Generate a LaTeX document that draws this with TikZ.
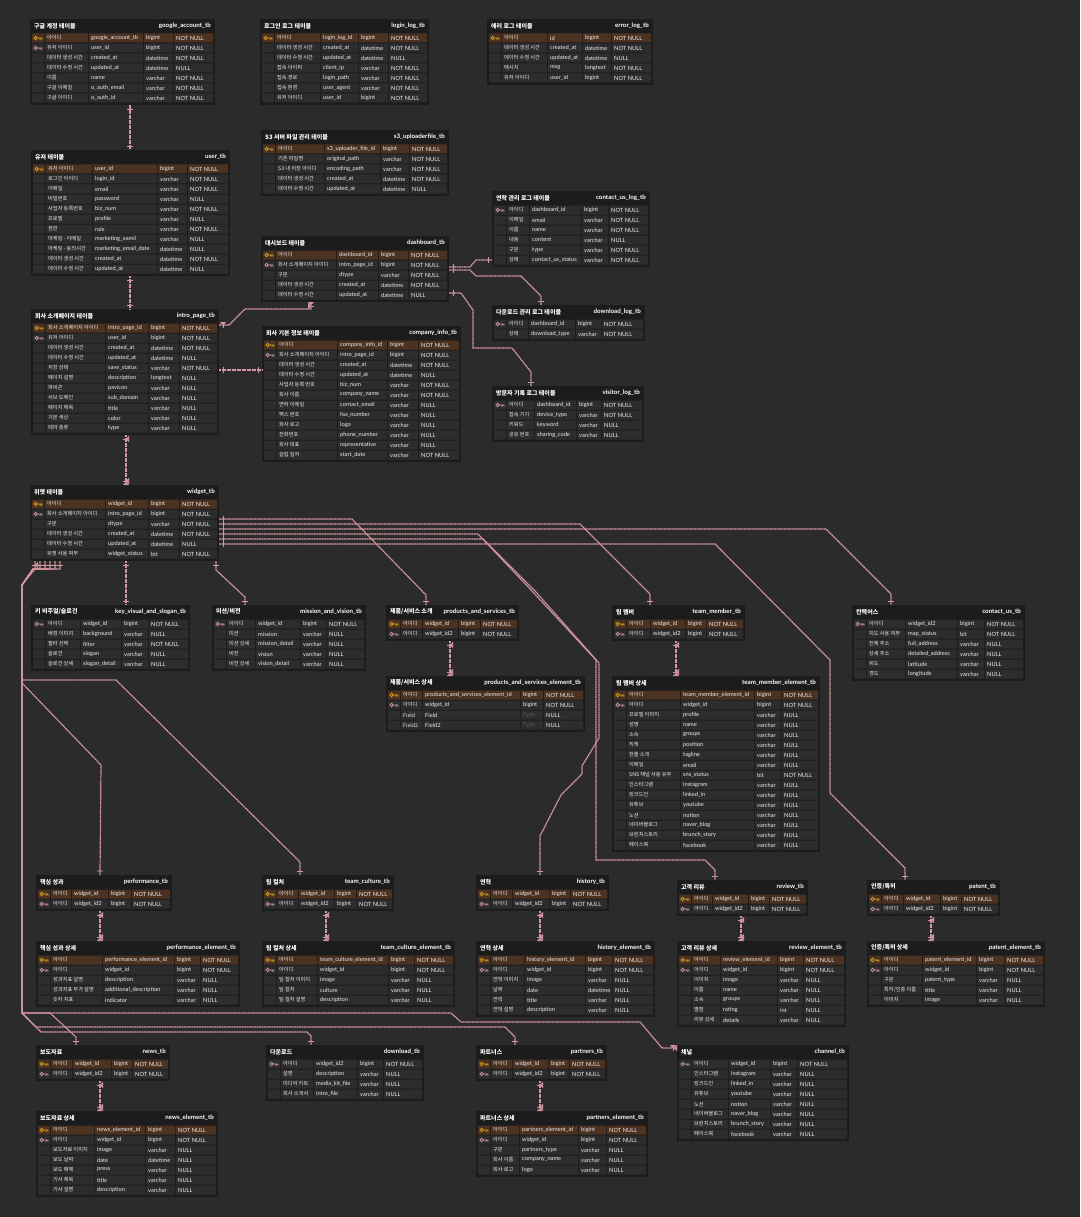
\documentclass[tikz,border=0pt]{standalone}
\usepackage{fontspec}
\setmainfont{Lato}
\newfontfamily\kr{Noto Sans CJK KR}
\usetikzlibrary{arrows.meta,decorations.markings}

\definecolor{canvas}{HTML}{2B2B2B}
\definecolor{tbback}{HTML}{1C1C1C}
\definecolor{cellgray}{HTML}{2D2D2D}
\definecolor{pkbrown}{HTML}{4B3221}
\definecolor{keygold}{HTML}{D9A520}
\definecolor{keypink}{HTML}{CF9AA5}
\definecolor{relpink}{HTML}{D696A2}
\definecolor{celltext}{HTML}{EDEDED}
\definecolor{typegray}{HTML}{5A5A5A}

% one ERD table: name, top-left, label/column/type/null widths, title, tb name, rows
\newcommand{\dbtable}[9]{%
  \pgfmathsetmacro\xc{16+#3}%
  \pgfmathsetmacro\xt{17+#3+#4}%
  \pgfmathsetmacro\xn{18+#3+#4+#5}%
  \pgfmathsetmacro\xe{18+#3+#4+#5+#6}%
  \pgfmathsetmacro\tw{20+#3+#4+#5+#6}%
  \foreach \rr [count=\nn] in {#9} {\xdef\nrows{\nn}}%
  \pgfmathsetmacro\th{16+10*\nrows}%
  \begin{scope}[shift={(#2)}]
    \node[tbbox, minimum width=\tw pt, minimum height=\th pt] (#1) at (0,0) {};
    \node[tbtitle] at (4,7) {#7};
    \node[tbname] at (\tw-4,7) {#8};
    \foreach \ky/\lb/\cn/\tp/\nl [count=\ri] in {#9} {
      \pgfmathsetmacro\yc{9+10*\ri}
      \fill[row\ky] (2,\yc-4.5) rectangle (14,\yc+4.5)
        (15,\yc-4.5) rectangle (\xc-1,\yc+4.5)
        (\xc,\yc-4.5) rectangle (\xt-1,\yc+4.5)
        (\xt,\yc-4.5) rectangle (\xn-1,\yc+4.5)
        (\xn,\yc-4.5) rectangle (\xe,\yc+4.5);
      \draw[key\ky] (5.6,\yc) circle[radius=1.7pt] (7.3,\yc) -- (12,\yc)
        (10.1,\yc) -- (10.1,\yc+1.7) (12,\yc) -- (12,\yc+1.7);
      \node[labeltxt] at (17,\yc) {\lb};
      \node[celltxt] at (\xc+2,\yc) {\cn};
      \node[celltxt] at (\xt+2,\yc) {\tp};
      \node[celltxt] at (\xn+2,\yc) {\nl};
    }
  \end{scope}}

\begin{document}
\catcode`\_=12
\begin{tikzpicture}[
    x=1pt, y=-1pt,
    tbbox/.style={rectangle, fill=tbback, inner sep=0pt, outer sep=0pt, anchor=north west},
    tbtitle/.style={anchor=west, inner sep=0pt, text=white, font=\kr\bfseries\fontsize{6}{7}\selectfont},
    tbname/.style={anchor=east, inner sep=0pt, text=white, font=\bfseries\fontsize{6.2}{7}\selectfont},
    labeltxt/.style={anchor=west, inner sep=0pt, text=celltext, font=\kr\fontsize{5.2}{6}\selectfont},
    celltxt/.style={anchor=west, inner sep=0pt, text=celltext, font=\fontsize{5.7}{6}\selectfont},
    rowpk/.style={fill=pkbrown},
    rowfk/.style={fill=cellgray},
    rowno/.style={fill=cellgray},
    keypk/.style={draw=keygold, line width=0.8pt},
    keyfk/.style={draw=keypink, line width=0.8pt},
    keyno/.style={draw=none},
    rel/.style={draw=relpink, line width=1.2pt, dash pattern=on 2pt off 0.5pt},
    bars/.style={postaction={decorate, decoration={markings,
      mark=at position 4pt with {\draw[relpink, solid, line width=0.9pt] (0,-3pt) -- (0,3pt);},
      mark=at position -4pt with {\draw[relpink, solid, line width=0.9pt] (0,-3pt) -- (0,3pt);}}}},
    crow/.style={-{Triangle[reversed, width=6pt, length=3pt]}}
  ]
  \fill[canvas] (0,0) rectangle (1080,1217);
  \useasboundingbox (0,0) rectangle (1080,1217);

  % log and account tables
  \dbtable{google}{30,19}{43}{54}{29}{39}{구글 계정 테이블}{google_account_tb}{
    pk/아이디/google_account_tb/bigint/NOT NULL,
    fk/유저 아이디/user_id/bigint/NOT NULL,
    no/데이터 생성 시간/created_at/datetime/NOT NULL,
    no/데이터 수정 시간/updated_at/datetime/NULL,
    no/이름/name/varchar/NOT NULL,
    no/구글 이메일/o_auth_email/varchar/NOT NULL,
    no/구글 아이디/o_auth_id/varchar/NOT NULL}
  \dbtable{login}{260,19}{45}{37}{29}{38}{로그인 로그 테이블}{login_log_tb}{
    pk/아이디/login_log_id/bigint/NOT NULL,
    no/데이터 생성 시간/created_at/datetime/NOT NULL,
    no/데이터 수정 시간/updated_at/datetime/NULL,
    no/접속 아이피/client_ip/varchar/NOT NULL,
    no/접속 경로/login_path/varchar/NOT NULL,
    no/접속 환경/user_agent/varchar/NOT NULL,
    no/유저 아이디/user_id/bigint/NOT NULL}
  \dbtable{errorlog}{487,19}{45}{34}{28}{39}{에러 로그 테이블}{error_log_tb}{
    pk/아이디/id/bigint/NOT NULL,
    no/데이터 생성 시간/created_at/datetime/NOT NULL,
    no/데이터 수정 시간/updated_at/datetime/NULL,
    no/메시지/msg/longtext/NOT NULL,
    no/유저 아이디/user_id/bigint/NOT NULL}
  \dbtable{sthree}{261,130}{48}{55}{28}{37}{S3 서버 파일 관리 테이블}{s3_uploaderfile_tb}{
    pk/아이디/s3_uploader_file_id/bigint/NOT NULL,
    no/기존 파일명/original_path/varchar/NOT NULL,
    no/S3 내 저장 아이디/encoding_path/varchar/NOT NULL,
    no/데이터 생성 시간/created_at/datetime/NOT NULL,
    no/데이터 수정 시간/updated_at/datetime/NULL}
  \dbtable{user}{31,150}{46}{64}{29}{40}{유저 테이블}{user_tb}{
    pk/유저 아이디/user_id/bigint/NOT NULL,
    no/로그인 아이디/login_id/varchar/NOT NULL,
    no/이메일/email/varchar/NOT NULL,
    no/비밀번호/password/varchar/NULL,
    no/사업자 등록번호/biz_num/varchar/NOT NULL,
    no/프로필/profile/varchar/NULL,
    no/권한/role/varchar/NOT NULL,
    no/마케팅 - 이메일/marketing_eamil/varchar/NULL,
    no/마케팅 - 동의시간/marketing_email_date/datetime/NULL,
    no/데이터 생성 시간/created_at/datetime/NOT NULL,
    no/데이터 수정 시간/updated_at/datetime/NULL}
  \dbtable{contactlog}{492,191}{22}{51}{26}{39}{연락 관리 로그 테이블}{contact_us_log_tb}{
    fk/아이디/dashboard_id/bigint/NOT NULL,
    no/이메일/email/varchar/NOT NULL,
    no/이름/name/varchar/NOT NULL,
    no/내용/content/varchar/NULL,
    no/구분/type/varchar/NOT NULL,
    no/상태/contact_us_status/varchar/NOT NULL}
  \dbtable{dashboard}{261,236}{60}{41}{29}{38}{대시보드 테이블}{dashboard_tb}{
    pk/아이디/dashboard_id/bigint/NOT NULL,
    fk/회사 소개페이지 아이디/intro_page_id/bigint/NOT NULL,
    no/구분/dtype/varchar/NOT NULL,
    no/데이터 생성 시간/created_at/datetime/NOT NULL,
    no/데이터 수정 시간/updated_at/datetime/NULL}
  \dbtable{downloadlog}{492,305}{21}{46}{25}{41}{다운로드 관리 로그 테이블}{download_log_tb}{
    fk/아이디/dashboard_id/bigint/NOT NULL,
    no/상태/download_type/varchar/NOT NULL}
  \dbtable{intro}{31,309}{59}{42}{30}{37}{회사 소개페이지 테이블}{intro_page_tb}{
    pk/회사 소개페이지 아이디/intro_page_id/bigint/NOT NULL,
    fk/유저 아이디/user_id/bigint/NOT NULL,
    no/데이터 생성 시간/created_at/datetime/NOT NULL,
    no/데이터 수정 시간/updated_at/datetime/NULL,
    no/저장 상태/save_status/varchar/NOT NULL,
    no/페이지 설명/description/longtext/NULL,
    no/파비콘/pavicon/varchar/NULL,
    no/서브 도메인/sub_domain/varchar/NULL,
    no/페이지 제목/title/varchar/NULL,
    no/기본 색상/color/varchar/NULL,
    no/테마 종류/type/varchar/NULL}
  \dbtable{company}{262,326}{60}{49}{30}{40}{회사 기본 정보 테이블}{company_info_tb}{
    pk/아이디/company_info_id/bigint/NOT NULL,
    fk/회사 소개페이지 아이디/intro_page_id/bigint/NOT NULL,
    no/데이터 생성 시간/created_at/datetime/NOT NULL,
    no/데이터 수정 시간/updated_at/datetime/NULL,
    no/사업자 등록 번호/biz_num/varchar/NOT NULL,
    no/회사 이름/company_name/varchar/NOT NULL,
    no/연락 이메일/contact_email/varchar/NULL,
    no/팩스 번호/fax_number/varchar/NULL,
    no/회사 로고/logo/varchar/NULL,
    no/전화번호/phone_number/varchar/NULL,
    no/회사 대표/representative/varchar/NULL,
    no/설립 일자/start_date/varchar/NOT NULL}
  \dbtable{visitor}{492,386}{27}{41}{24}{40}{방문자 기록 로그 테이블}{visitor_log_tb}{
    fk/아이디/dashboard_id/bigint/NOT NULL,
    no/접속 기기/device_type/varchar/NOT NULL,
    no/키워드/keyword/varchar/NULL,
    no/공유 번호/sharing_code/varchar/NULL}

  % widget and its children
  \dbtable{widget}{30,485}{60}{42}{30}{37}{위젯 테이블}{widget_tb}{
    pk/아이디/widget_id/bigint/NOT NULL,
    fk/회사 소개페이지 아이디/intro_page_id/bigint/NOT NULL,
    no/구분/dtype/varchar/NOT NULL,
    no/데이터 생성 시간/created_at/datetime/NOT NULL,
    no/데이터 수정 시간/updated_at/datetime/NULL,
    no/위젯 사용 여부/widget_status/bit/NOT NULL}
  \dbtable{keyvisual}{31,605}{34}{40}{26}{39}{키 비주얼/슬로건}{key_visual_and_slogan_tb}{
    fk/아이디/widget_id/bigint/NOT NULL,
    no/배경 이미지/background/varchar/NULL,
    no/필터 선택/filter/varchar/NOT NULL,
    no/슬로건/slogan/varchar/NULL,
    no/슬로건 상세/slogan_detail/varchar/NULL}
  \dbtable{mission}{212,605}{28}{44}{25}{37}{미션/비전}{mission_and_vision_tb}{
    fk/아이디/widget_id/bigint/NOT NULL,
    no/미션/mission/varchar/NULL,
    no/미션 상세/mission_detail/varchar/NULL,
    no/비전/vision/varchar/NULL,
    no/비전 상세/vision_detail/varchar/NULL}
  \dbtable{products}{386,605}{21}{35}{21}{36}{제품/서비스 소개}{products_and_services_tb}{
    pk/아이디/widget_id/bigint/NOT NULL,
    fk/아이디/widget_id2/bigint/NOT NULL}
  \dbtable{productsel}{386,676}{21}{97}{22}{39}{제품/서비스 상세}{products_and_services_element_tb}{
    pk/아이디/products_and_services_element_id/bigint/NOT NULL,
    fk/아이디/widget_id/bigint/NOT NULL,
    no/Field/Field/{\color{typegray}Type}/NULL,
    no/Field2/Field2/{\color{typegray}Type}/NULL}
  \dbtable{teammember}{612,605}{23}{34}{20}{36}{팀 멤버}{team_member_tb}{
    pk/아이디/widget_id/bigint/NOT NULL,
    fk/아이디/widget_id2/bigint/NOT NULL}
  \dbtable{teammemberel}{612,676}{53}{73}{26}{36}{팀 멤버 상세}{team_member_element_tb}{
    pk/아이디/team_member_element_id/bigint/NOT NULL,
    fk/아이디/widget_id/bigint/NOT NULL,
    no/프로필 이미지/profile/varchar/NULL,
    no/성명/name/varchar/NULL,
    no/소속/groups/varchar/NULL,
    no/직책/position/varchar/NULL,
    no/한줄 소개/tagline/varchar/NULL,
    no/이메일/email/varchar/NULL,
    no/SNS 채널 사용 유무/sns_status/bit/NOT NULL,
    no/인스타그램/instagram/varchar/NULL,
    no/링크드인/linked_in/varchar/NULL,
    no/유튜브/youtube/varchar/NULL,
    no/노션/notion/varchar/NULL,
    no/네이버블로그/naver_blog/varchar/NULL,
    no/브런치스토리/brunch_story/varchar/NULL,
    no/페이스북/facebook/varchar/NULL}
  \dbtable{contactus}{852,605}{38}{51}{26}{38}{컨택어스}{contact_us_tb}{
    fk/아이디/widget_id2/bigint/NOT NULL,
    no/지도 사용 여부/map_status/bit/NOT NULL,
    no/전체 주소/full_address/varchar/NULL,
    no/상세 주소/detailed_address/varchar/NULL,
    no/위도/latitude/varchar/NULL,
    no/경도/longitude/varchar/NULL}

  \dbtable{performance}{36,875}{20}{36}{22}{38}{핵심 성과}{performance_tb}{
    pk/아이디/widget_id/bigint/NOT NULL,
    fk/아이디/widget_id2/bigint/NOT NULL}
  \dbtable{performanceel}{36,941}{51}{71}{25}{37}{핵심 성과 상세}{performance_element_tb}{
    pk/아이디/performance_element_id/bigint/NOT NULL,
    fk/아이디/widget_id/bigint/NOT NULL,
    no/성과지표 설명/description/varchar/NULL,
    no/성과지표 부가 설명/additional_description/varchar/NULL,
    no/숫자 지표/indicator/varchar/NULL}
  \dbtable{teamculture}{262,875}{21}{35}{21}{35}{팀 컬처}{team_culture_tb}{
    pk/아이디/widget_id/bigint/NOT NULL,
    fk/아이디/widget_id2/bigint/NOT NULL}
  \dbtable{teamcultureel}{262,941}{40}{70}{25}{38}{팀 컬처 상세}{team_culture_element_tb}{
    pk/아이디/team_culture_element_id/bigint/NOT NULL,
    fk/아이디/widget_id/bigint/NOT NULL,
    no/팀 컬처 이미지/image/varchar/NULL,
    no/팀 컬처/culture/varchar/NULL,
    no/팀 컬처 설명/description/varchar/NULL}
  \dbtable{history}{476,875}{21}{36}{20}{36}{연혁}{history_tb}{
    pk/아이디/widget_id/bigint/NOT NULL,
    fk/아이디/widget_id2/bigint/NOT NULL}
  \dbtable{historyel}{476,941}{33}{60}{26}{40}{연혁 상세}{history_element_tb}{
    pk/아이디/history_element_id/bigint/NOT NULL,
    fk/아이디/widget_id/bigint/NOT NULL,
    no/연혁 이미지/image/varchar/NULL,
    no/날짜/date/datetime/NULL,
    no/연혁/title/varchar/NULL,
    no/연혁 설명/description/varchar/NULL}
  \dbtable{review}{677,880}{20}{35}{20}{36}{고객 리뷰}{review_tb}{
    pk/아이디/widget_id/bigint/NOT NULL,
    fk/아이디/widget_id2/bigint/NOT NULL}
  \dbtable{reviewel}{677,941}{28}{56}{25}{40}{고객 리뷰 상세}{review_element_tb}{
    pk/아이디/review_element_id/bigint/NOT NULL,
    fk/아이디/widget_id/bigint/NOT NULL,
    no/이미지/image/varchar/NULL,
    no/이름/name/varchar/NULL,
    no/소속/groups/varchar/NULL,
    no/별점/rating/int/NULL,
    no/리뷰 상세/details/varchar/NULL}
  \dbtable{patent}{867,880}{21}{36}{20}{36}{인증/특허}{patent_tb}{
    pk/아이디/widget_id/bigint/NOT NULL,
    fk/아이디/widget_id2/bigint/NOT NULL}
  \dbtable{patentel}{867,941}{40}{53}{27}{38}{인증/특허 상세}{patent_element_tb}{
    pk/아이디/patent_element_id/bigint/NOT NULL,
    fk/아이디/widget_id/bigint/NOT NULL,
    no/구분/patent_type/varchar/NULL,
    no/{특허/인증 이름}/title/varchar/NULL,
    no/이미지/image/varchar/NULL}

  \dbtable{news}{36,1045}{21}{38}{20}{35}{보도자료}{news_tb}{
    pk/아이디/widget_id/bigint/NOT NULL,
    fk/아이디/widget_id2/bigint/NOT NULL}
  \dbtable{newsel}{36,1111}{43}{50}{29}{40}{보도자료 상세}{news_element_tb}{
    pk/아이디/news_element_id/bigint/NOT NULL,
    fk/아이디/widget_id/bigint/NOT NULL,
    no/보도자료 이미지/image/varchar/NULL,
    no/보도 날짜/date/datetime/NULL,
    no/보도 매체/press/varchar/NULL,
    no/기사 제목/title/varchar/NULL,
    no/기사 설명/description/varchar/NULL}
  \dbtable{download}{266,1045}{32}{43}{25}{38}{다운로드}{download_tb}{
    fk/아이디/widget_id2/bigint/NOT NULL,
    no/설명/description/varchar/NULL,
    no/미디어 키트/media_kit_file/varchar/NULL,
    no/회사 소개서/intro_file/varchar/NULL}
  \dbtable{partners}{476,1045}{21}{35}{20}{35}{파트너스}{partners_tb}{
    pk/아이디/widget_id/bigint/NOT NULL,
    fk/아이디/widget_id2/bigint/NOT NULL}
  \dbtable{partnersel}{476,1111}{28}{58}{27}{39}{파트너스 상세}{partners_element_tb}{
    pk/아이디/partners_element_id/bigint/NOT NULL,
    fk/아이디/widget_id/bigint/NOT NULL,
    no/구분/partners_type/varchar/NULL,
    no/회사 이름/company_name/varchar/NULL,
    no/회사 로고/logo/varchar/NULL}
  \dbtable{channel}{677,1045}{36}{41}{26}{49}{채널}{channel_tb}{
    fk/아이디/widget_id/bigint/NOT NULL,
    no/인스타그램/instagram/varchar/NULL,
    no/링크드인/linked_in/varchar/NULL,
    no/유튜브/youtube/varchar/NULL,
    no/노션/notion/varchar/NULL,
    no/네이버블로그/naver_blog/varchar/NULL,
    no/브런치스토리/brunch_story/varchar/NULL,
    no/페이스북/facebook/varchar/NULL}

  % relations, upper part
  \draw[rel, bars] ([xshift=100pt]google.south west) -- ([xshift=99pt]user.north west);
  \draw[rel, bars] ([xshift=99pt]user.south west) -- ([xshift=99pt]intro.north west);
  \draw[rel, bars, crow] ([yshift=-16pt]intro.north east) -- (229,325) -- (245,309) -- (311,309) -- ([xshift=50pt]dashboard.south west);
  \draw[rel, bars] ([yshift=-61pt]intro.north east) -- ([yshift=-44pt]company.north west);
  \draw[rel, bars] ([yshift=-31pt]dashboard.north east) -- (470,267) -- (476,260) -- ([yshift=-69pt]contactlog.north west);
  \draw[rel, bars] ([yshift=-34pt]dashboard.north east) -- (470,270) -- (476,276) -- (521,276) -- (541,296) -- ([xshift=49pt]downloadlog.north west);
  \draw[rel, bars] ([yshift=-57pt]dashboard.north east) -- (461,293) -- (473,310) -- (473,348) -- (512,348) -- (531,372) -- ([xshift=39pt]visitor.north west);
  \draw[rel, bars, crow] ([xshift=95pt]intro.south west) -- ([xshift=96pt]widget.north west);

  % widget to its children
  \draw[rel, bars] ([xshift=96pt]widget.south west) -- ([xshift=95pt]keyvisual.north west);
  \draw[rel, bars] ([xshift=186pt]widget.south west) -- (216,570) -- (245,597) -- ([xshift=33pt]mission.north west);
  \draw[rel, bars] ([yshift=-34pt]widget.north east) -- (352,519) -- (426,595) -- ([xshift=40pt]products.north west);
  \draw[rel, bars] ([yshift=-39pt]widget.north east) -- (580,524) -- (650,594) -- ([xshift=38pt]teammember.north west);
  \draw[rel, bars] ([yshift=-44pt]widget.north east) -- (826,529) -- (891,594) -- ([xshift=39pt]contactus.north west);
  \draw[rel, bars] ([yshift=-49pt]widget.north east) -- (478,534) -- (531,590) -- (596,660) -- (596,860) -- (705,860) -- (715,870) -- ([xshift=38pt]review.north west);
  \draw[rel, bars] ([yshift=-54pt]widget.north east) -- (483,539) -- (535,591) -- (599,663) -- (599,738) -- (582,766) -- (582,774) -- (561,795) -- (540,836) -- ([xshift=64pt]history.north west);
  \draw[rel, bars] ([yshift=-59pt]widget.north east) -- (715,544) -- (830,660) -- (830,793) -- (905,868) -- ([xshift=38pt]patent.north west);
  \draw[rel, bars] ([xshift=30pt]widget.south west) -- (60,569) -- (33,569) -- (22,585) -- (22,683) -- (101,765) -- ([xshift=64pt]performance.north west);
  \draw[rel, bars] ([xshift=25pt]widget.south west) -- (55,569) -- (33,569) -- (22,585) -- (22,680) -- (116,680) -- (300,862) -- ([xshift=38pt]teamculture.north west);
  \draw[rel, bars, crow] ([xshift=5pt]widget.south west) -- (35,569) -- (22,585) -- (22,1013) -- (451,1013) -- (461,1022) -- (640,1022) -- (662,1048) -- ([yshift=-3pt]channel.north west);
  \draw[rel, bars] ([xshift=10pt]widget.south west) -- (40,569) -- (33,569) -- (22,585) -- (22,1013) -- (41,1032) -- (307,1032) -- (311,1036) -- ([xshift=45pt]download.north west);
  \draw[rel, bars] ([xshift=15pt]widget.south west) -- (45,569) -- (33,569) -- (22,585) -- (22,1013) -- (50,1013) -- (76,1037) -- ([xshift=40pt]news.north west);
  \draw[rel, bars] ([xshift=20pt]widget.south west) -- (50,569) -- (33,569) -- (22,585) -- (22,1013) -- (36,1027) -- (505,1027) -- (515,1037) -- ([xshift=39pt]partners.north west);

  % group tables to their element tables
  \foreach \tb in {products, teammember, performance, teamculture, history, review, patent, news, partners}
    \draw[rel, bars, crow] ([xshift=64pt]\tb.south west) -- ([xshift=64pt]\tb el.north west);
\end{tikzpicture}
\end{document}
